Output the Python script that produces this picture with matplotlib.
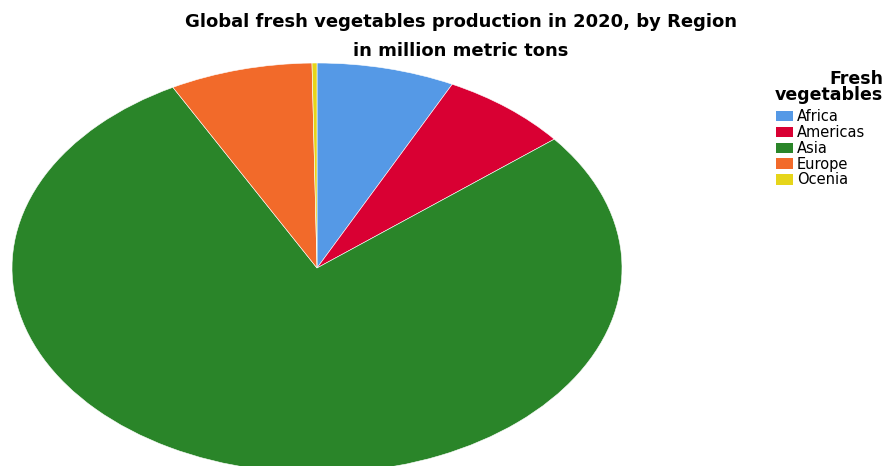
import matplotlib.pyplot as plt
from matplotlib.patches import Patch

plt.rcParams['font.family'] = ['DejaVu Sans']

# Fresh vegetables production 2020 (million metric tons)
regions = ['Africa', 'Americas', 'Asia', 'Europe', 'Ocenia']
production = [84, 79, 896, 87, 3]
colors = ['#5599E6', '#D90033', '#2A8529', '#F26A2A', '#E6D51A']

W, H = 885, 466
fig = plt.figure(figsize=(W / 100, H / 100), dpi=100)

# pie is stretched into an ellipse: center ~(317,268), rx ~305, ry ~205
cx, cy, rx, ry = 317, 268, 305, 205
ax = fig.add_axes([(cx - rx) / W, (H - cy - ry) / H, 2 * rx / W, 2 * ry / H])
ax.pie(production, colors=colors, startangle=90, counterclock=False,
       radius=1, wedgeprops=dict(edgecolor='white', linewidth=0.4))
ax.set_aspect('auto')
ax.set_xlim(-1, 1)
ax.set_ylim(-1, 1)
ax.axis('off')

fig.text(461 / W, 1 - 22 / H, 'Global fresh vegetables production in 2020, by Region',
         ha='center', va='center', fontsize=13, fontweight='bold')
fig.text(461 / W, 1 - 51 / H, 'in million metric tons',
         ha='center', va='center', fontsize=13, fontweight='bold')

# legend title
fig.text(883 / W, 1 - 87 / H, 'Fresh\nvegetables', ha='right', va='center',
         multialignment='right', fontsize=12.5, fontweight='bold', linespacing=0.9)

handles = [Patch(facecolor=c, edgecolor='none') for c in colors]
fig.legend(handles, regions, loc='upper left', bbox_to_anchor=(776 / W, 1 - 109 / H),
           frameon=False, fontsize=10.5, handlelength=1.17, handleheight=0.7,
           handletextpad=0.27, labelspacing=0.06, borderpad=0, borderaxespad=0)

fig.savefig('out.png', dpi=100)
